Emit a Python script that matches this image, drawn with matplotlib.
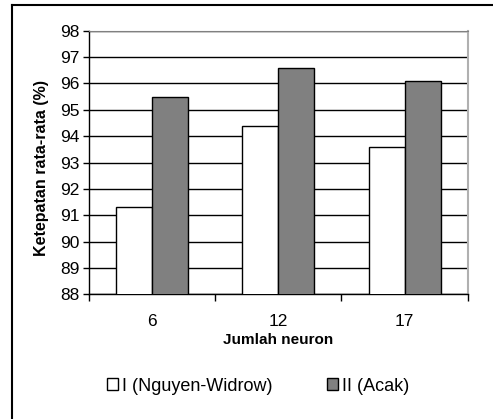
import matplotlib
matplotlib.use("Agg")
import matplotlib.pyplot as plt
from matplotlib.patches import Patch
from matplotlib.lines import Line2D
import numpy as np

plt.rcParams['font.family'] = ['Liberation Sans', 'DejaVu Sans']

categories = ["6", "12", "17"]
series_names = ["I (Nguyen-Widrow)", "II (Acak)"]
nguyen_widrow = [91.3, 94.4, 93.6]
acak = [95.5, 96.6, 96.1]
y_ticks = [88, 89, 90, 91, 92, 93, 94, 95, 96, 97, 98]

W, H = 493, 419
fig = plt.figure(figsize=(W / 100, H / 100), dpi=100)

# plot area in pixel coordinates
left, right, top, bottom = 89, 467.7, 30.7, 294.3
ax = fig.add_axes([left / W, 1 - bottom / H, (right - left) / W, (bottom - top) / H])

x = np.arange(len(categories))
bw = 0.285
ax.bar(x - bw / 2, nguyen_widrow, bw, color="white", edgecolor="black", linewidth=1.0, zorder=3)
ax.bar(x + bw / 2, acak, bw, color="#808080", edgecolor="black", linewidth=1.0, zorder=3)

ax.set_xlim(-0.5, len(categories) - 0.5)
ax.set_ylim(88, 98)
ax.set_yticks(y_ticks)
ax.set_yticklabels([str(t) for t in y_ticks], fontsize=12.5)
ax.yaxis.grid(True, color="black", linewidth=1.0, zorder=0)
ax.set_axisbelow(True)

# category boundaries carry the x tick marks; labels sit at the centres
ax.set_xticks(np.arange(-0.5, len(categories), 1.0))
ax.set_xticklabels([])
ax.set_xticks(x, minor=True)
ax.set_xticklabels(categories, minor=True, fontsize=12.5)
ax.tick_params(axis="x", which="minor", length=0, pad=14)
ax.tick_params(axis="x", which="major", length=5, width=1, direction="out")
ax.tick_params(axis="y", length=4, width=1, direction="out", pad=3)

for s in ["left", "bottom"]:
    ax.spines[s].set_color("black")
    ax.spines[s].set_linewidth(1.0)
ax.spines["top"].set_color("#808080")
ax.spines["right"].set_color("#b0b0b0")
ax.spines["right"].set_linewidth(1.5)

ax.set_xlabel("Jumlah neuron", fontsize=11, fontweight="bold", labelpad=3)
ax.set_ylabel("Ketepatan rata-rata (%)", fontsize=11.5, fontweight="bold")
ax.yaxis.set_label_coords((49 - left) / (right - left), 1 - (167.5 - top) / (bottom - top))

# outer frame (left and top edges)
fig.add_artist(Line2D([12 / W, 12 / W], [0, 1 - 5 / H], color="black", linewidth=1.5,
                      transform=fig.transFigure))
fig.add_artist(Line2D([12 / W, 1], [1 - 5 / H, 1 - 5 / H], color="black", linewidth=1.5,
                      transform=fig.transFigure))

handles = [Patch(facecolor="white", edgecolor="black", linewidth=1.0),
           Patch(facecolor="#808080", edgecolor="black", linewidth=1.0)]
fig.legend(handles, series_names, loc="center", bbox_to_anchor=(258 / W, 1 - 386 / H),
           ncol=2, frameon=False, fontsize=13, handlelength=0.6, handleheight=0.6,
           handletextpad=0.25, columnspacing=3.0)

fig.savefig("out.png", dpi=100)
